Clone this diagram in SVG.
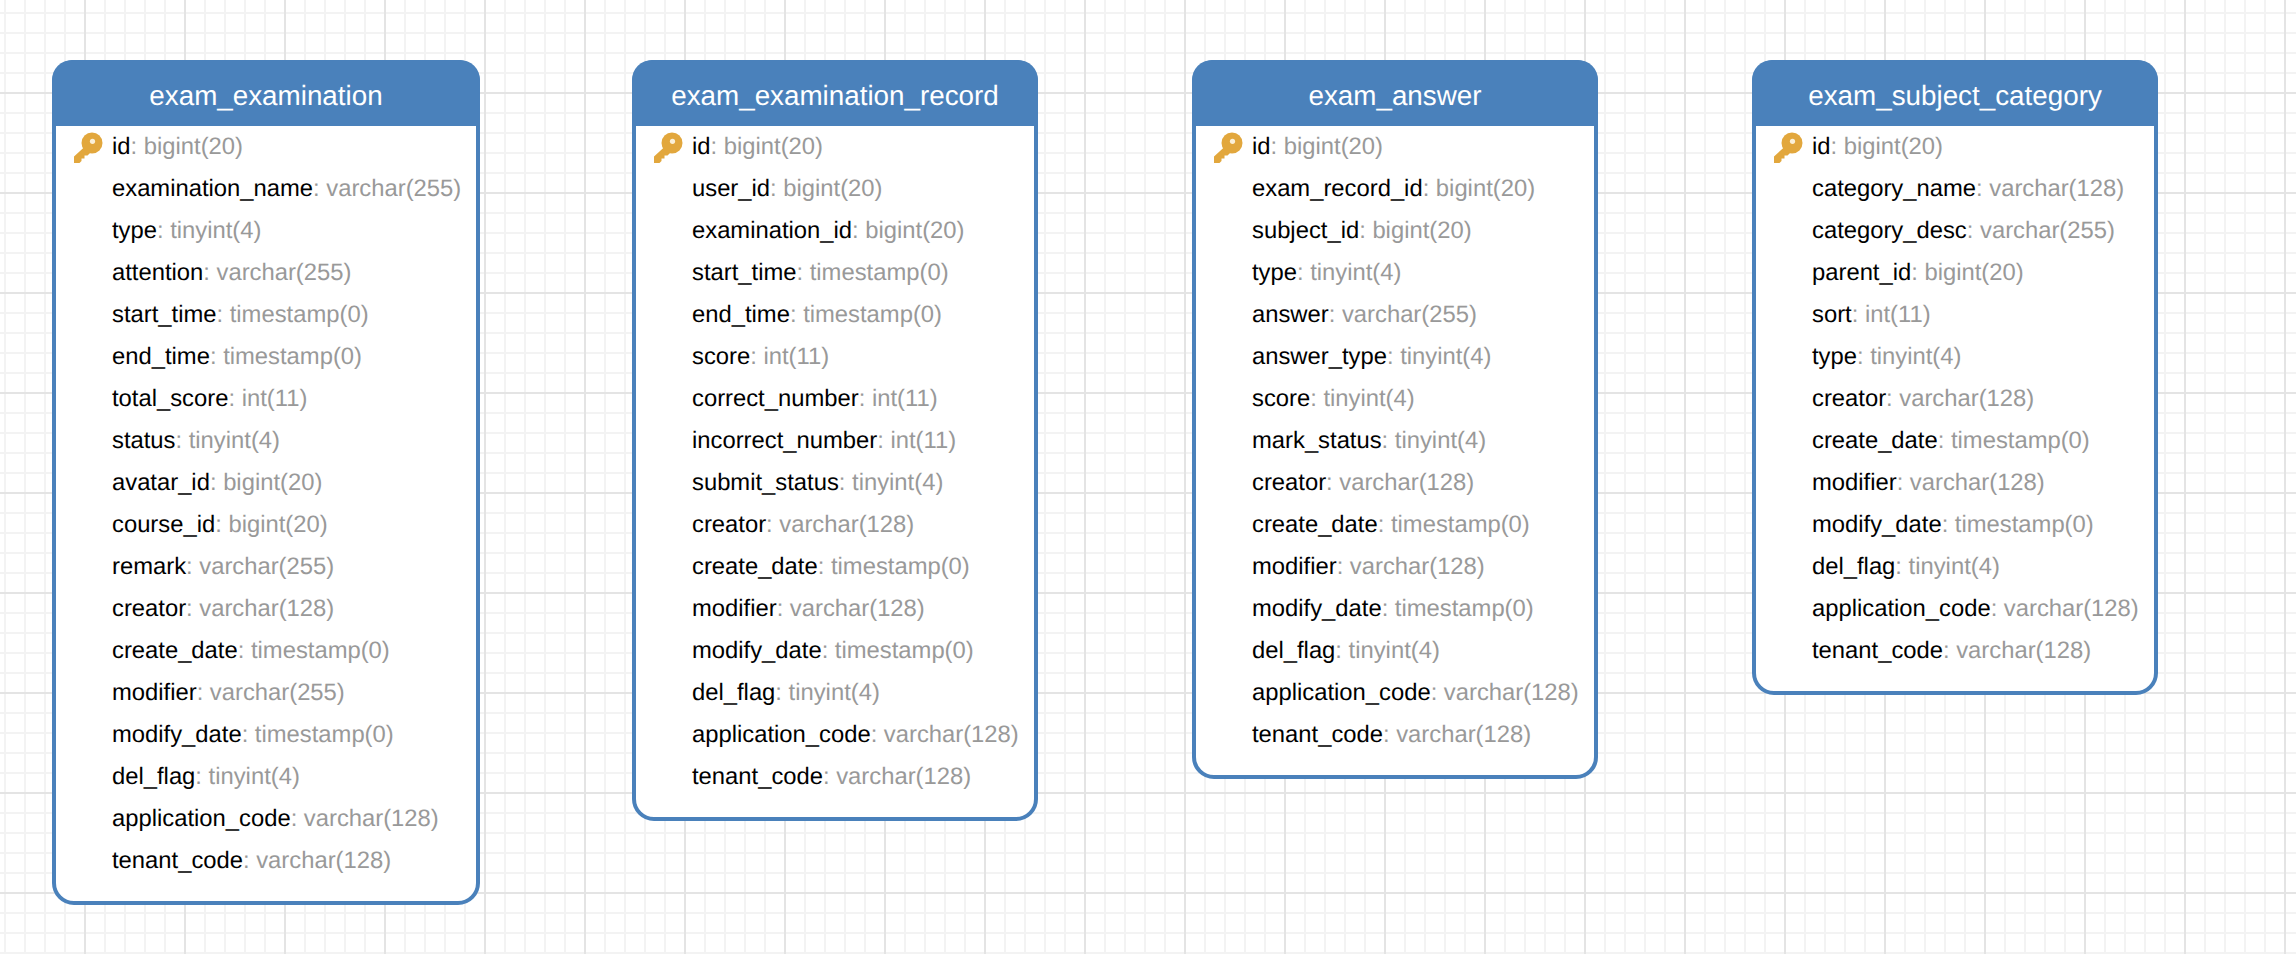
<svg xmlns="http://www.w3.org/2000/svg" xmlns:xlink="http://www.w3.org/1999/xlink" width="2296" height="954" viewBox="0 0 2296 954">
<style>
text{font-family:"Liberation Sans",Arial,sans-serif;text-rendering:geometricPrecision}
.box{fill:#fff;stroke:#4a81bb;stroke-width:4}
.hd{fill:#4a81bb}
.title{fill:#fff;font-size:27.8px;text-anchor:middle}
.row{fill:#000;font-size:23.8px}
.row tspan{fill:#999}
</style>
<defs>
<pattern id="minor" patternUnits="userSpaceOnUse" x="4" y="12" width="20" height="20"><path d="M0 0H2V20H0ZM2 0H20V2H2Z" fill="#f3f3f3"/></pattern>
<pattern id="major" patternUnits="userSpaceOnUse" x="84" y="92" width="100" height="100"><path d="M0 0H2V100H0ZM2 0H100V2H2Z" fill="#e4e4e4"/></pattern>
<g id="key">
<path d="M11.500 13L0 23.500V30H5.500L7.500 28V25.500H10.500V22.500H13.500L16.500 19.500Z" fill="#e2a73d"/>
<circle cx="18" cy="10" r="10.500" fill="#e2a73d"/>
<circle cx="18.500" cy="8.300" r="2.600" fill="#fbf0d8"/>
</g>
</defs>
<rect width="2296" height="954" fill="#fff"/>
<rect id="grid-minor" width="2296" height="954" fill="url(#minor)"/>
<rect id="grid-major" width="2296" height="954" fill="url(#major)"/>

<g id="exam_examination" transform="translate(54 62)">
<rect class="box" width="424" height="841" rx="20"/>
<path class="hd" d="M-2 64V18A20 20 0 0 1 18 -2H406A20 20 0 0 1 426 18V64Z"/>
<text class="title" x="212" y="43">exam_examination</text>
<use href="#key" x="20" y="71"/>
<text class="row" x="58" y="92">id<tspan>: bigint(20)</tspan></text>
<text class="row" x="58" y="134">examination_name<tspan>: varchar(255)</tspan></text>
<text class="row" x="58" y="176">type<tspan>: tinyint(4)</tspan></text>
<text class="row" x="58" y="218">attention<tspan>: varchar(255)</tspan></text>
<text class="row" x="58" y="260">start_time<tspan>: timestamp(0)</tspan></text>
<text class="row" x="58" y="302">end_time<tspan>: timestamp(0)</tspan></text>
<text class="row" x="58" y="344">total_score<tspan>: int(11)</tspan></text>
<text class="row" x="58" y="386">status<tspan>: tinyint(4)</tspan></text>
<text class="row" x="58" y="428">avatar_id<tspan>: bigint(20)</tspan></text>
<text class="row" x="58" y="470">course_id<tspan>: bigint(20)</tspan></text>
<text class="row" x="58" y="512">remark<tspan>: varchar(255)</tspan></text>
<text class="row" x="58" y="554">creator<tspan>: varchar(128)</tspan></text>
<text class="row" x="58" y="596">create_date<tspan>: timestamp(0)</tspan></text>
<text class="row" x="58" y="638">modifier<tspan>: varchar(255)</tspan></text>
<text class="row" x="58" y="680">modify_date<tspan>: timestamp(0)</tspan></text>
<text class="row" x="58" y="722">del_flag<tspan>: tinyint(4)</tspan></text>
<text class="row" x="58" y="764">application_code<tspan>: varchar(128)</tspan></text>
<text class="row" x="58" y="806">tenant_code<tspan>: varchar(128)</tspan></text>
</g>

<g id="exam_examination_record" transform="translate(634 62)">
<rect class="box" width="402" height="757" rx="20"/>
<path class="hd" d="M-2 64V18A20 20 0 0 1 18 -2H384A20 20 0 0 1 404 18V64Z"/>
<text class="title" x="201" y="43">exam_examination_record</text>
<use href="#key" x="20" y="71"/>
<text class="row" x="58" y="92">id<tspan>: bigint(20)</tspan></text>
<text class="row" x="58" y="134">user_id<tspan>: bigint(20)</tspan></text>
<text class="row" x="58" y="176">examination_id<tspan>: bigint(20)</tspan></text>
<text class="row" x="58" y="218">start_time<tspan>: timestamp(0)</tspan></text>
<text class="row" x="58" y="260">end_time<tspan>: timestamp(0)</tspan></text>
<text class="row" x="58" y="302">score<tspan>: int(11)</tspan></text>
<text class="row" x="58" y="344">correct_number<tspan>: int(11)</tspan></text>
<text class="row" x="58" y="386">incorrect_number<tspan>: int(11)</tspan></text>
<text class="row" x="58" y="428">submit_status<tspan>: tinyint(4)</tspan></text>
<text class="row" x="58" y="470">creator<tspan>: varchar(128)</tspan></text>
<text class="row" x="58" y="512">create_date<tspan>: timestamp(0)</tspan></text>
<text class="row" x="58" y="554">modifier<tspan>: varchar(128)</tspan></text>
<text class="row" x="58" y="596">modify_date<tspan>: timestamp(0)</tspan></text>
<text class="row" x="58" y="638">del_flag<tspan>: tinyint(4)</tspan></text>
<text class="row" x="58" y="680">application_code<tspan>: varchar(128)</tspan></text>
<text class="row" x="58" y="722">tenant_code<tspan>: varchar(128)</tspan></text>
</g>

<g id="exam_answer" transform="translate(1194 62)">
<rect class="box" width="402" height="715" rx="20"/>
<path class="hd" d="M-2 64V18A20 20 0 0 1 18 -2H384A20 20 0 0 1 404 18V64Z"/>
<text class="title" x="201" y="43">exam_answer</text>
<use href="#key" x="20" y="71"/>
<text class="row" x="58" y="92">id<tspan>: bigint(20)</tspan></text>
<text class="row" x="58" y="134">exam_record_id<tspan>: bigint(20)</tspan></text>
<text class="row" x="58" y="176">subject_id<tspan>: bigint(20)</tspan></text>
<text class="row" x="58" y="218">type<tspan>: tinyint(4)</tspan></text>
<text class="row" x="58" y="260">answer<tspan>: varchar(255)</tspan></text>
<text class="row" x="58" y="302">answer_type<tspan>: tinyint(4)</tspan></text>
<text class="row" x="58" y="344">score<tspan>: tinyint(4)</tspan></text>
<text class="row" x="58" y="386">mark_status<tspan>: tinyint(4)</tspan></text>
<text class="row" x="58" y="428">creator<tspan>: varchar(128)</tspan></text>
<text class="row" x="58" y="470">create_date<tspan>: timestamp(0)</tspan></text>
<text class="row" x="58" y="512">modifier<tspan>: varchar(128)</tspan></text>
<text class="row" x="58" y="554">modify_date<tspan>: timestamp(0)</tspan></text>
<text class="row" x="58" y="596">del_flag<tspan>: tinyint(4)</tspan></text>
<text class="row" x="58" y="638">application_code<tspan>: varchar(128)</tspan></text>
<text class="row" x="58" y="680">tenant_code<tspan>: varchar(128)</tspan></text>
</g>

<g id="exam_subject_category" transform="translate(1754 62)">
<rect class="box" width="402" height="631" rx="20"/>
<path class="hd" d="M-2 64V18A20 20 0 0 1 18 -2H384A20 20 0 0 1 404 18V64Z"/>
<text class="title" x="201" y="43">exam_subject_category</text>
<use href="#key" x="20" y="71"/>
<text class="row" x="58" y="92">id<tspan>: bigint(20)</tspan></text>
<text class="row" x="58" y="134">category_name<tspan>: varchar(128)</tspan></text>
<text class="row" x="58" y="176">category_desc<tspan>: varchar(255)</tspan></text>
<text class="row" x="58" y="218">parent_id<tspan>: bigint(20)</tspan></text>
<text class="row" x="58" y="260">sort<tspan>: int(11)</tspan></text>
<text class="row" x="58" y="302">type<tspan>: tinyint(4)</tspan></text>
<text class="row" x="58" y="344">creator<tspan>: varchar(128)</tspan></text>
<text class="row" x="58" y="386">create_date<tspan>: timestamp(0)</tspan></text>
<text class="row" x="58" y="428">modifier<tspan>: varchar(128)</tspan></text>
<text class="row" x="58" y="470">modify_date<tspan>: timestamp(0)</tspan></text>
<text class="row" x="58" y="512">del_flag<tspan>: tinyint(4)</tspan></text>
<text class="row" x="58" y="554">application_code<tspan>: varchar(128)</tspan></text>
<text class="row" x="58" y="596">tenant_code<tspan>: varchar(128)</tspan></text>
</g>
</svg>
